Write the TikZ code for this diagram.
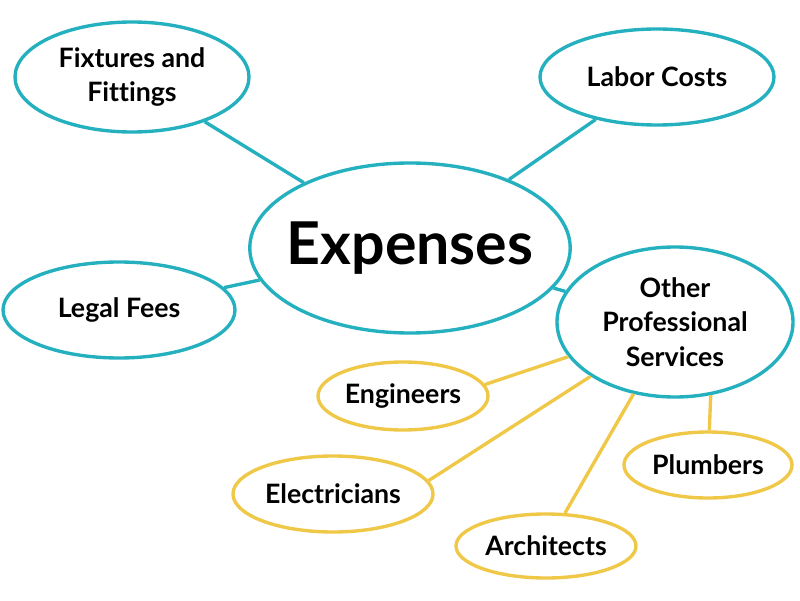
\documentclass[tikz,border=0pt]{standalone}
\usepackage{fontspec}
\setmainfont{Lato}[Ligatures={NoCommon}]
\usepackage{xcolor}
\usetikzlibrary{shapes.geometric}

\definecolor{tealline}{RGB}{36,176,190}
\definecolor{goldline}{RGB}{240,200,72}

\begin{document}
\begin{tikzpicture}[
  bubble/.style={ellipse, draw=tealline, line width=2.4pt, fill=white,
    inner sep=0pt, align=center, font=\fontsize{19}{24.5}\selectfont\bfseries},
  subbubble/.style={bubble, draw=goldline},
  link/.style={draw=tealline, line width=2.4pt},
  sublink/.style={draw=goldline, line width=2.4pt}]

\useasboundingbox (0,0) rectangle (20,15);

% Centro
\node[bubble, minimum width=7.95cm, minimum height=4.25cm, inner xsep=-0.25cm,
  font=\fontsize{42}{44}\selectfont\bfseries] (exp) at (10.25,8.8) {Expenses};

% Ramos principais
\node[bubble, minimum width=5.85cm, minimum height=2.75cm] (fix) at (3.3,13.075) {Fixtures and\\Fittings};
\node[bubble, minimum width=5.85cm, minimum height=2.4cm] (lab) at (16.425,13.075) {Labor Costs};
\node[bubble, minimum width=5.8cm, minimum height=2.4cm] (leg) at (2.975,7.25) {Legal Fees};
\node[bubble, minimum width=5.9cm, minimum height=3.75cm] (oth) at (16.875,6.95) {Other\\Professional\\Services};

% Profissionais
\node[subbubble, minimum width=4.25cm, minimum height=1.7cm] (eng) at (10.075,5.1) {Engineers};
\node[subbubble, minimum width=5cm, minimum height=1.9cm] (ele) at (8.325,2.65) {Electricians};
\node[subbubble, minimum width=4.5cm, minimum height=1.6cm] (arc) at (13.65,1.35) {Architects};
\node[subbubble, minimum width=4.2cm, minimum height=1.65cm] (plu) at (17.7,3.375) {Plumbers};

% ligações
\draw[link] (fix) -- (exp);
\draw[link] (lab) -- (exp);
\draw[link] (leg) -- (exp);
\draw[link] (exp) -- (oth);

\draw[sublink] (eng.8) -- (oth.198);
\draw[sublink] (ele.8) -- (oth);
\draw[sublink] (arc) -- (oth);
\draw[sublink] (oth.-64) -- (plu);

\end{tikzpicture}
\end{document}
